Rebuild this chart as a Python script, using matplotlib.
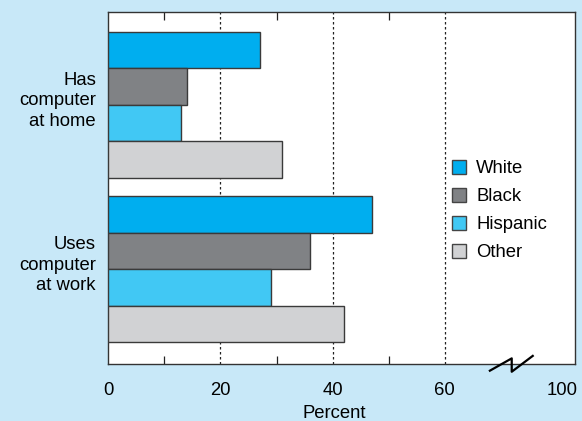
import numpy as np
import matplotlib.pyplot as plt
from matplotlib.patches import Patch

plt.rcParams['font.family'] = ['Liberation Sans', 'DejaVu Sans']

groups = ['Has\ncomputer\nat home', 'Uses\ncomputer\nat work']
series = ['White', 'Black', 'Hispanic', 'Other']
values = {
    'White':    [27, 47],
    'Black':    [14, 36],
    'Hispanic': [13, 29],
    'Other':    [31, 42],
}
colors = ['#00AEEF', '#808285', '#41C8F4', '#D1D2D4']
xticks = [0, 20, 40, 60]
xtick_labels = ['0', '20', '40', '60', '100']

fs = 13.3
bg = '#C8E8F8'
fig = plt.figure(figsize=(5.82, 4.21), dpi=100, facecolor=bg)
ax = fig.add_axes([0.1864, 0.1354, 0.8016, 0.8361])
ax.set_facecolor('white')

group_pos = np.array([0, 4.5])
for i, name in enumerate(series):
    ax.barh(group_pos + i, values[name], height=1.0, color=colors[i],
            edgecolor='#3a3a3a', linewidth=1.0, zorder=3)

ax.set_ylim(8.6, -1.04)
ax.set_xlim(0, 83.3)

for x in xticks[1:]:
    ax.axvline(x, color='#222222', linestyle=(0, (2, 2)), linewidth=0.9, zorder=1)

ax.set_yticks(group_pos + 1.29)
ax.set_yticklabels(groups, fontsize=fs, linespacing=1.27)
ax.tick_params(axis='y', length=0, pad=9)

ax.set_xticks(xticks + [81])
ax.set_xticklabels(xtick_labels, fontsize=fs)
ax.tick_params(axis='x', length=0, pad=13)
ax.set_xticks([10, 30, 50], minor=True)
ax.tick_params(axis='x', which='minor', direction='in', length=6,
               width=0.9, color='#222222', top=True, bottom=True)

for s in ax.spines.values():
    s.set_color('#333333')
    s.set_linewidth(1.0)

ax.set_xlabel('Percent', fontsize=fs)
ax.xaxis.set_label_coords(0.483, -0.117)
ax.xaxis.label.set_verticalalignment('top')

# axis break mark
bx = [68.1, 72.0, 72.0, 75.75]
by = [-0.019, 0.016, -0.022, 0.023]
ax.plot(bx, by, color='black', linewidth=1.6, clip_on=False,
        transform=ax.get_xaxis_transform(), zorder=5)

handles = [Patch(facecolor=c, edgecolor='#444444', linewidth=1.0) for c in colors]
leg = ax.legend(handles, series, loc='upper left',
                bbox_to_anchor=(452 / 582, 1 - 160 / 421),
                bbox_transform=fig.transFigure, frameon=False,
                fontsize=fs, handlelength=0.76, handleheight=0.76,
                handletextpad=0.55, labelspacing=0.58, borderpad=0,
                borderaxespad=0)

fig.savefig('out.png', dpi=100, facecolor=bg)
